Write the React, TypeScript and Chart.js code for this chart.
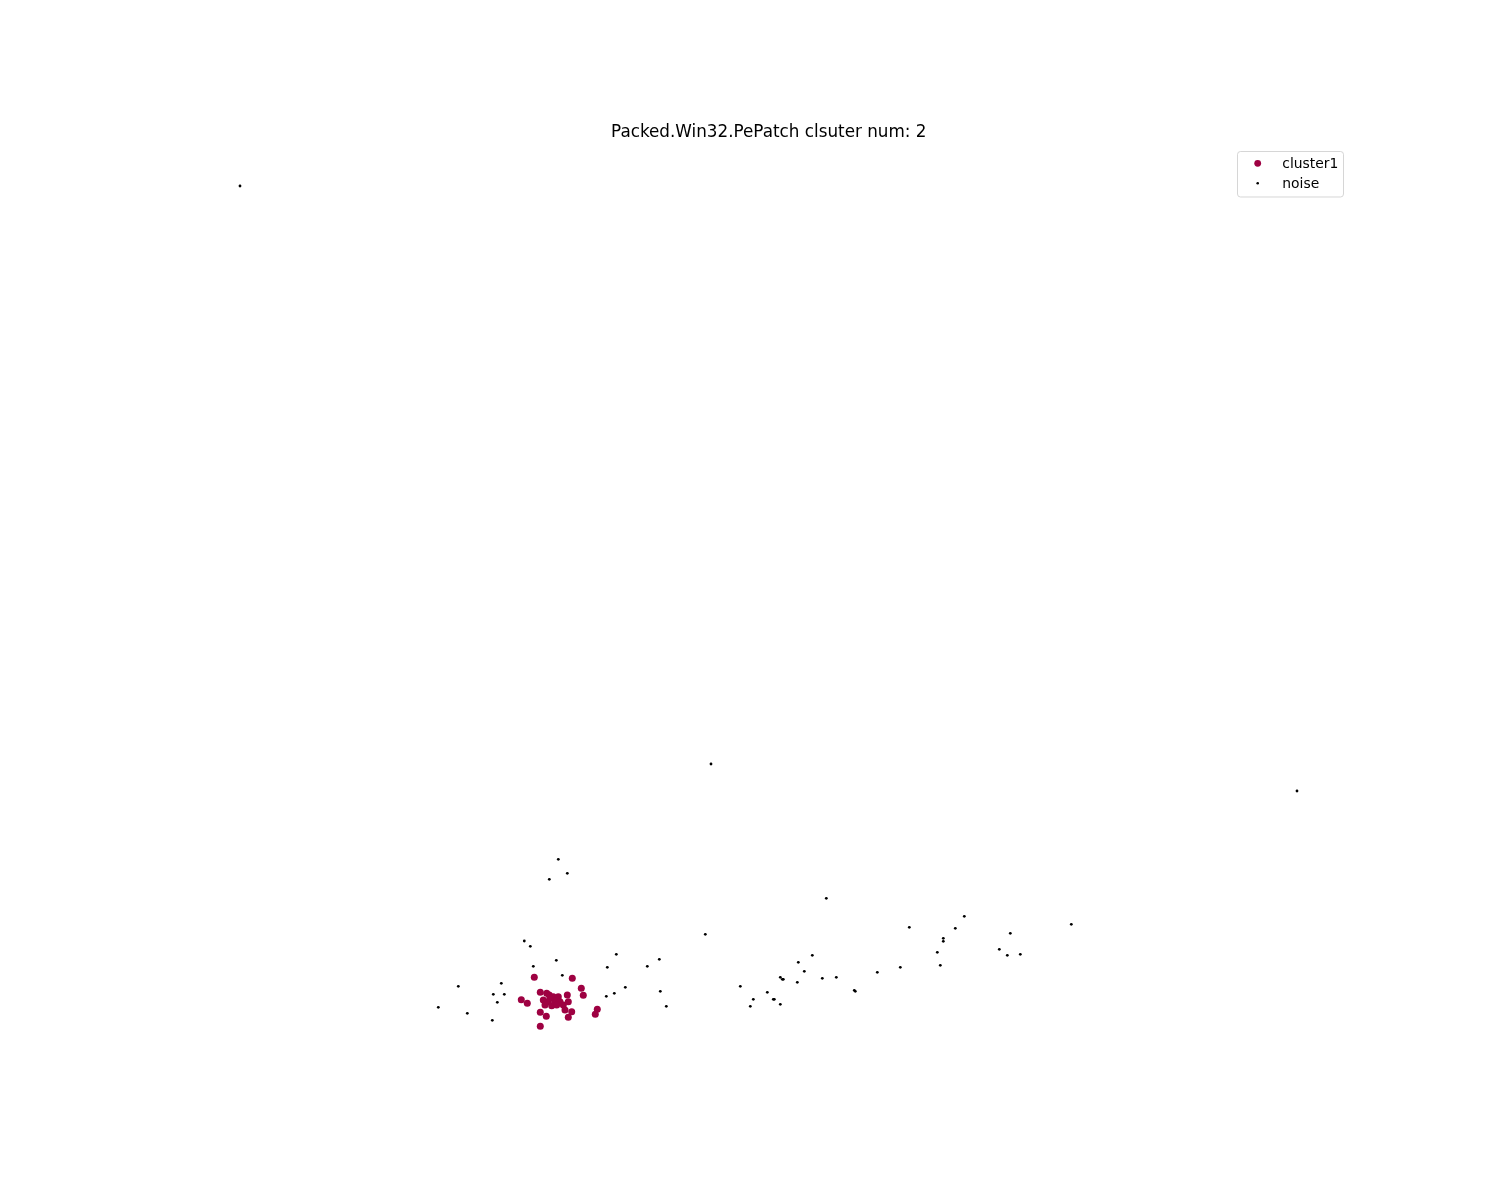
import React, { useEffect, useRef } from "react";
import { Chart, registerables } from "chart.js";

Chart.register(...registerables);

const titleText = "Packed.Win32.PePatch clsuter num: 2";
const seriesNames = ["cluster1", "noise"];

// cluster1 points (x, y) in plot units
const clusterX = [
  534.3, 572.3, 581.3, 583.3, 521.3, 527.3, 540.3, 546.7, 549.3, 553.3,
  558.3, 567.3, 543.3, 548.3, 555.0, 560.0, 568.3, 545.0, 551.7, 556.7,
  563.3, 565.0, 571.7, 568.3, 540.3, 546.3, 540.3, 597.3, 595.3, 550.0,
];
const clusterY = [
  222.7, 221.7, 211.7, 204.7, 200.3, 196.7, 207.7, 206.7, 205.0, 203.3,
  203.3, 205.0, 200.0, 198.3, 199.0, 198.3, 198.3, 195.0, 194.3, 195.0,
  195.0, 190.0, 188.3, 182.7, 187.7, 183.7, 173.7, 190.7, 185.7, 201.7,
];

// noise points
const noiseX = [
  240.0, 711.0, 1297.0,
  558.3, 567.3, 549.3, 524.3, 530.3, 556.3, 533.3, 616.3, 607.3, 647.3,
  659.3, 562.3, 458.3, 501.3, 493.3, 504.3, 497.3, 438.3, 467.3, 492.3,
  625.3, 614.3, 606.3, 660.3, 666.3,
  826.3, 705.3, 740.3, 753.3, 750.3, 767.3, 773.3, 774.3, 780.3, 780.3,
  782.3, 783.3, 798.3, 804.3, 812.3, 797.3, 822.3, 836.3, 854.3, 855.3,
  877.3,
  900.3, 909.3, 937.3, 940.3, 943.3, 943.3, 955.3, 964.3, 999.3, 1007.3,
  1010.3, 1020.3, 1071.3,
];
const noiseY = [
  1014.0, 436.0, 409.0,
  340.7, 326.7, 320.7, 259.0, 253.7, 239.7, 233.7, 245.7, 232.7, 233.7,
  240.7, 224.7, 213.7, 216.7, 205.7, 205.7, 197.7, 192.7, 186.7, 179.7,
  212.7, 206.7, 203.7, 208.7, 193.7,
  301.7, 265.7, 213.7, 200.7, 193.7, 207.7, 200.7, 200.7, 195.7, 222.7,
  220.7, 220.7, 237.7, 228.7, 244.7, 217.7, 221.7, 222.7, 209.7, 208.7,
  227.7,
  232.7, 272.7, 247.7, 234.7, 261.7, 258.7, 271.7, 283.7, 250.7, 244.7,
  266.7, 245.7, 275.7,
];

const clusterColor = "#9e0142";
const noiseColor = "#000000";

const xRange = [187.5, 1350];
const yRange = [132, 1056];

const overlayPlugin = {
  id: "mplOverlay",
  afterDraw(chart: any) {
    const ctx = chart.ctx as CanvasRenderingContext2D;
    const area = chart.chartArea;
    ctx.save();
    // title
    ctx.fillStyle = "#000";
    ctx.font = '16.8px "DejaVu Sans"';
    ctx.textAlign = "center";
    ctx.textBaseline = "alphabetic";
    ctx.fillText(titleText, (area.left + area.right) / 2, area.top - 7.5);

    // legend box
    const bx = 1237.5, by = 151.5, bw = 106, bh = 45.5, r = 3;
    ctx.beginPath();
    ctx.moveTo(bx + r, by);
    ctx.lineTo(bx + bw - r, by);
    ctx.quadraticCurveTo(bx + bw, by, bx + bw, by + r);
    ctx.lineTo(bx + bw, by + bh - r);
    ctx.quadraticCurveTo(bx + bw, by + bh, bx + bw - r, by + bh);
    ctx.lineTo(bx + r, by + bh);
    ctx.quadraticCurveTo(bx, by + bh, bx, by + bh - r);
    ctx.lineTo(bx, by + r);
    ctx.quadraticCurveTo(bx, by, bx + r, by);
    ctx.closePath();
    ctx.fillStyle = "rgba(255,255,255,0.8)";
    ctx.fill();
    ctx.strokeStyle = "rgba(204,204,204,0.8)";
    ctx.lineWidth = 1;
    ctx.stroke();

    const rows = [
      { y: 163.3, color: clusterColor, rad: 3.4 },
      { y: 183.3, color: noiseColor, rad: 1.3 },
    ];
    ctx.font = '13.9px "DejaVu Sans"';
    ctx.textAlign = "left";
    ctx.textBaseline = "middle";
    rows.forEach((row, i) => {
      ctx.beginPath();
      ctx.arc(1257.7, row.y, row.rad, 0, Math.PI * 2);
      ctx.fillStyle = row.color;
      ctx.fill();
      ctx.fillStyle = "#000";
      ctx.fillText(seriesNames[i], 1282.3, row.y + 1);
    });
    ctx.restore();
  },
};

export default function App() {
  const ref = useRef<HTMLCanvasElement | null>(null);
  useEffect(() => {
    if (!ref.current) return;
    const chart = new Chart(ref.current, {
      type: "scatter",
      data: {
        datasets: [
          {
            label: seriesNames[0],
            data: clusterX.map((x, i) => ({ x, y: clusterY[i] })),
            backgroundColor: clusterColor,
            borderColor: clusterColor,
            pointRadius: 3.5,
            borderWidth: 0,
            order: 1,
          },
          {
            label: seriesNames[1],
            data: noiseX.map((x, i) => ({ x, y: noiseY[i] })),
            backgroundColor: noiseColor,
            borderColor: noiseColor,
            pointRadius: 1.4,
            borderWidth: 0,
            order: 0,
          },
        ],
      },
      options: {
        responsive: false,
        devicePixelRatio: 1,
        animation: false,
        layout: { padding: { left: 187.5, right: 150, top: 144, bottom: 132 } },
        scales: {
          x: { type: "linear", min: xRange[0], max: xRange[1], display: false },
          y: { type: "linear", min: yRange[0], max: yRange[1], display: false },
        },
        plugins: {
          legend: { display: false },
          title: { display: false },
          tooltip: { enabled: false },
        },
      },
      plugins: [overlayPlugin],
    });
    return () => chart.destroy();
  }, []);
  return (
    <div style={{ position: "absolute", left: 0, top: 0, width: 1500, height: 1200, background: "#fff" }}>
      <canvas ref={ref} width={1500} height={1200} style={{ width: 1500, height: 1200 }} />
    </div>
  );
}
